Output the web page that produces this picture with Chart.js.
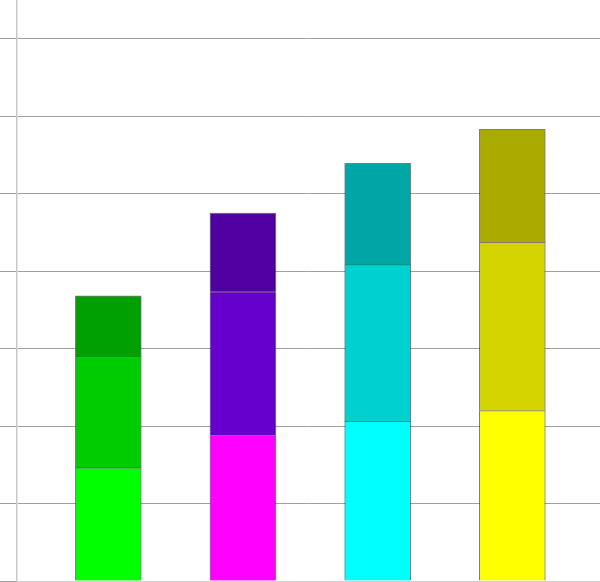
<!DOCTYPE html>
<html>
<head>
<meta charset="utf-8">
<script src="https://cdn.jsdelivr.net/npm/chart.js@4"></script>
<style>
html,body{margin:0;padding:0;background:#fff;}
#wrap{width:600px;height:582px;}
</style>
</head>
<body>
<div id="wrap"><canvas id="c"></canvas></div>
<script>
const categories = ['A', 'B', 'C', 'D'];
const bottomValues = [1.46, 1.885, 2.06, 2.20];
const middleValues = [1.43, 1.848, 2.02, 2.173];
const topValues = [0.79, 1.018, 1.31, 1.456];
const bottomColors = ['#00ff00', '#ff00ff', '#00ffff', '#ffff00'];
const middleColors = ['#00cc00', '#6600cc', '#00d0d0', '#d4d400'];
const topColors = ['#00a000', '#5000a0', '#00a6a6', '#aaaa00'];

function pts(vals) { return vals.map((v, i) => ({ x: i, y: v })); }

const mk = (label, vals, colors) => ({
  label,
  data: pts(vals),
  backgroundColor: colors,
  borderColor: 'rgba(40,40,40,0.6)',
  borderWidth: 1,
  barThickness: 66,
  stack: 's'
});

new Chart(document.getElementById('c'), {
  type: 'bar',
  data: {
    labels: categories,
    datasets: [
      mk('bottom', bottomValues, bottomColors),
      mk('middle', middleValues, middleColors),
      mk('top', topValues, topColors)
    ]
  },
  options: {
    responsive: true,
    maintainAspectRatio: false,
    animation: false,
    layout: { padding: { top: 0, bottom: 1, left: 0, right: 0 } },
    plugins: { legend: { display: false }, tooltip: { enabled: false } },
    scales: {
      x: {
        type: 'linear',
        stacked: true,
        offset: false,
        min: -0.678,
        max: 3.651,
        grid: { display: false, drawTicks: false },
        ticks: { display: false },
        border: { display: true, color: '#d0d0d0', width: 1 }
      },
      y: {
        stacked: true,
        min: 0,
        max: 7.5,
        ticks: { display: false, stepSize: 1, includeBounds: false },
        grid: { color: '#a0a0a0', lineWidth: 1, tickLength: 17, drawTicks: true },
        border: { display: true, color: '#c8c8c8', width: 1.5 }
      }
    }
  }
});
</script>
</body>
</html>
